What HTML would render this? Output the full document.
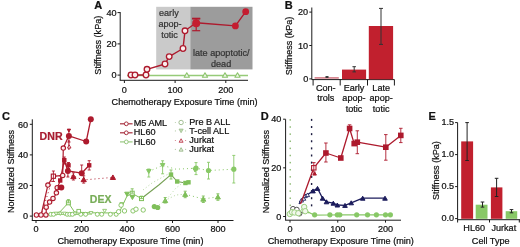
<!DOCTYPE html>
<html><head><meta charset="utf-8"><style>
html,body{margin:0;padding:0;background:#fff;}
svg{display:block;font-family:"Liberation Sans",sans-serif;will-change:transform;}
</style></head><body>
<svg width="520" height="247" viewBox="0 0 520 247">
<rect width="520" height="247" fill="#fff"/>
<text x="94.2" y="8.6" font-size="11" fill="#111" stroke="#111" stroke-width="0.22" text-anchor="start" font-weight="bold" >A</text>
<rect x="156.2" y="6.8" width="34.1" height="62.6" fill="#cacaca"/>
<rect x="190.3" y="6.8" width="62.2" height="62.6" fill="#9c9c9c"/>
<text x="159.0" y="15.8" font-size="9.1" fill="#333" stroke="#333" stroke-width="0.22" text-anchor="start" font-weight="normal" >early</text>
<text x="158.4" y="26.6" font-size="9.1" fill="#333" stroke="#333" stroke-width="0.22" text-anchor="start" font-weight="normal" >apop-</text>
<text x="161.2" y="37.5" font-size="9.1" fill="#333" stroke="#333" stroke-width="0.22" text-anchor="start" font-weight="normal" >totic</text>
<text x="193.0" y="56.1" font-size="9.1" fill="#333" stroke="#333" stroke-width="0.22" text-anchor="start" font-weight="normal" >late apoptotic/</text>
<text x="211.0" y="66.6" font-size="9.1" fill="#333" stroke="#333" stroke-width="0.22" text-anchor="start" font-weight="normal" >dead</text>
<line x1="120.2" y1="12.1" x2="120.2" y2="80.3" stroke="#1a1a1a" stroke-width="1" />
<line x1="119.7" y1="80.3" x2="248" y2="80.3" stroke="#1a1a1a" stroke-width="1" />
<line x1="117.5" y1="12.6" x2="120.2" y2="12.6" stroke="#1a1a1a" stroke-width="1" />
<text x="116.6" y="15.899999999999999" font-size="9.1" fill="#111" stroke="#111" stroke-width="0.22" text-anchor="end" font-weight="normal" >40</text>
<line x1="117.5" y1="43.9" x2="120.2" y2="43.9" stroke="#1a1a1a" stroke-width="1" />
<text x="116.6" y="47.199999999999996" font-size="9.1" fill="#111" stroke="#111" stroke-width="0.22" text-anchor="end" font-weight="normal" >20</text>
<line x1="117.5" y1="75.1" x2="120.2" y2="75.1" stroke="#1a1a1a" stroke-width="1" />
<text x="116.6" y="78.39999999999999" font-size="9.1" fill="#111" stroke="#111" stroke-width="0.22" text-anchor="end" font-weight="normal" >0</text>
<line x1="124.4" y1="80.3" x2="124.4" y2="83" stroke="#1a1a1a" stroke-width="1" />
<text x="124.4" y="93.0" font-size="9.1" fill="#111" stroke="#111" stroke-width="0.22" text-anchor="middle" font-weight="normal" >0</text>
<line x1="175.1" y1="80.3" x2="175.1" y2="83" stroke="#1a1a1a" stroke-width="1" />
<text x="175.1" y="93.0" font-size="9.1" fill="#111" stroke="#111" stroke-width="0.22" text-anchor="middle" font-weight="normal" >100</text>
<line x1="225.8" y1="80.3" x2="225.8" y2="83" stroke="#1a1a1a" stroke-width="1" />
<text x="225.8" y="93.0" font-size="9.1" fill="#111" stroke="#111" stroke-width="0.22" text-anchor="middle" font-weight="normal" >200</text>
<text x="111.6" y="104.8" font-size="9.1" fill="#111" stroke="#111" stroke-width="0.22" text-anchor="start" font-weight="normal" >Chemotherapy Exposure Time (min)</text>
<text x="0" y="0" font-size="9.1" fill="#111" stroke="#111" stroke-width="0.22" text-anchor="middle" transform="translate(101.4,45.2) rotate(-90)">Stiffness (kPa)</text>
<line x1="127" y1="75.5" x2="248" y2="75.5" stroke="#96cb78" stroke-width="1.3" />
<polygon points="184.20000000000002,77.262 189.4,77.262 186.8,72.738" fill="#eef7e8" stroke="#8cc46c" stroke-width="1.1" stroke-linejoin="round"/>
<polygon points="202.4,77.262 207.6,77.262 205,72.738" fill="#eef7e8" stroke="#8cc46c" stroke-width="1.1" stroke-linejoin="round"/>
<polygon points="222.4,77.262 227.6,77.262 225,72.738" fill="#eef7e8" stroke="#8cc46c" stroke-width="1.1" stroke-linejoin="round"/>
<polygon points="234.9,77.262 240.1,77.262 237.5,72.738" fill="#eef7e8" stroke="#8cc46c" stroke-width="1.1" stroke-linejoin="round"/>
<polyline points="131,75 135,75 146,75 147,69.3 165,64 169.2,56.6 183,48.5 185,30.8 196.2,22.7 235.4,25.9 245.7,11.7" fill="none" stroke="#ad1a2d" stroke-width="1.4" stroke-linejoin="round" />
<line x1="196.2" y1="18.6" x2="196.2" y2="30.7" stroke="#ad1a2d" stroke-width="1.2" />
<line x1="192.2" y1="18.6" x2="200.2" y2="18.6" stroke="#ad1a2d" stroke-width="1.2" />
<line x1="192.2" y1="30.7" x2="200.2" y2="30.7" stroke="#ad1a2d" stroke-width="1.2" />
<line x1="192.2" y1="18.6" x2="200.2" y2="18.6" stroke="#ad1a2d" stroke-width="1.8" />
<circle cx="131" cy="75" r="2.8" fill="#fbeeee" stroke="#ad1a2d" stroke-width="1.3"/>
<circle cx="135" cy="75" r="2.8" fill="#fbeeee" stroke="#ad1a2d" stroke-width="1.3"/>
<circle cx="146" cy="75" r="2.8" fill="#fbeeee" stroke="#ad1a2d" stroke-width="1.3"/>
<circle cx="147" cy="69.3" r="2.8" fill="#fbeeee" stroke="#ad1a2d" stroke-width="1.3"/>
<circle cx="165" cy="64" r="2.8" fill="#fbeeee" stroke="#ad1a2d" stroke-width="1.3"/>
<circle cx="169.2" cy="56.6" r="2.8" fill="#fbeeee" stroke="#ad1a2d" stroke-width="1.3"/>
<circle cx="183" cy="48.5" r="2.8" fill="#fbeeee" stroke="#ad1a2d" stroke-width="1.3"/>
<circle cx="185" cy="30.8" r="2.8" fill="#fbeeee" stroke="#ad1a2d" stroke-width="1.3"/>
<circle cx="196.2" cy="23.2" r="4.0" fill="#c41d30"/>
<circle cx="235.4" cy="25.9" r="3.4" fill="#c41d30"/>
<circle cx="245.7" cy="11.7" r="3.4" fill="#c41d30"/>
<text x="284.7" y="8.8" font-size="11" fill="#111" stroke="#111" stroke-width="0.22" text-anchor="start" font-weight="bold" >B</text>
<text x="0" y="0" font-size="9.0" fill="#111" stroke="#111" stroke-width="0.22" text-anchor="middle" transform="translate(291.9,46.0) rotate(-90)">Stiffness (kPa)</text>
<line x1="311.8" y1="7.5" x2="311.8" y2="79.6" stroke="#1a1a1a" stroke-width="1" />
<line x1="309.3" y1="12.1" x2="311.8" y2="12.1" stroke="#1a1a1a" stroke-width="1" />
<text x="308.2" y="15.399999999999999" font-size="9.1" fill="#111" stroke="#111" stroke-width="0.22" text-anchor="end" font-weight="normal" >20</text>
<line x1="309.3" y1="45.5" x2="311.8" y2="45.5" stroke="#1a1a1a" stroke-width="1" />
<text x="308.2" y="48.8" font-size="9.1" fill="#111" stroke="#111" stroke-width="0.22" text-anchor="end" font-weight="normal" >10</text>
<line x1="309.3" y1="78.9" x2="311.8" y2="78.9" stroke="#1a1a1a" stroke-width="1" />
<text x="308.2" y="82.2" font-size="9.1" fill="#111" stroke="#111" stroke-width="0.22" text-anchor="end" font-weight="normal" >0</text>
<line x1="311.8" y1="79.6" x2="394.4" y2="79.6" stroke="#1a1a1a" stroke-width="1" />
<line x1="313.1" y1="79.6" x2="313.1" y2="85.5" stroke="#1a1a1a" stroke-width="1" />
<line x1="340.2" y1="79.6" x2="340.2" y2="85.5" stroke="#1a1a1a" stroke-width="1" />
<line x1="367.5" y1="79.6" x2="367.5" y2="85.5" stroke="#1a1a1a" stroke-width="1" />
<line x1="394.4" y1="79.6" x2="394.4" y2="85.5" stroke="#1a1a1a" stroke-width="1" />
<rect x="314.6" y="77.0" width="24.2" height="1.8" fill="#d98a94"/>
<rect x="342.0" y="69.6" width="24.1" height="9.6" fill="#c1202e"/>
<rect x="368.8" y="26" width="24.3" height="53.3" fill="#c1202e"/>
<line x1="327" y1="76.6" x2="327" y2="77.4" stroke="#333" stroke-width="1.0" />
<line x1="325.5" y1="76.6" x2="328.5" y2="76.6" stroke="#333" stroke-width="1.0" />
<line x1="325.5" y1="77.4" x2="328.5" y2="77.4" stroke="#333" stroke-width="1.0" />
<line x1="354.2" y1="66.7" x2="354.2" y2="71.9" stroke="#333" stroke-width="1.0" />
<line x1="352.45" y1="66.7" x2="355.95" y2="66.7" stroke="#333" stroke-width="1.0" />
<line x1="352.45" y1="71.9" x2="355.95" y2="71.9" stroke="#333" stroke-width="1.0" />
<line x1="381" y1="8.4" x2="381" y2="44.4" stroke="#333" stroke-width="1.0" />
<line x1="379.0" y1="8.4" x2="383.0" y2="8.4" stroke="#333" stroke-width="1.0" />
<line x1="379.0" y1="44.4" x2="383.0" y2="44.4" stroke="#333" stroke-width="1.0" />
<text x="325.8" y="90.6" font-size="9.1" fill="#111" stroke="#111" stroke-width="0.22" text-anchor="middle" font-weight="normal" >Con-</text>
<text x="325.8" y="101.1" font-size="9.1" fill="#111" stroke="#111" stroke-width="0.22" text-anchor="middle" font-weight="normal" >trols</text>
<text x="354" y="90.6" font-size="9.1" fill="#111" stroke="#111" stroke-width="0.22" text-anchor="middle" font-weight="normal" >Early</text>
<text x="354" y="101.1" font-size="9.1" fill="#111" stroke="#111" stroke-width="0.22" text-anchor="middle" font-weight="normal" >apop-</text>
<text x="354" y="111.6" font-size="9.1" fill="#111" stroke="#111" stroke-width="0.22" text-anchor="middle" font-weight="normal" >totic</text>
<text x="381.2" y="90.6" font-size="9.1" fill="#111" stroke="#111" stroke-width="0.22" text-anchor="middle" font-weight="normal" >Late</text>
<text x="381.2" y="101.1" font-size="9.1" fill="#111" stroke="#111" stroke-width="0.22" text-anchor="middle" font-weight="normal" >apop-</text>
<text x="381.2" y="111.6" font-size="9.1" fill="#111" stroke="#111" stroke-width="0.22" text-anchor="middle" font-weight="normal" >totic</text>
<text x="1.9" y="119.7" font-size="11" fill="#111" stroke="#111" stroke-width="0.22" text-anchor="start" font-weight="bold" >C</text>
<text x="0" y="0" font-size="9.1" fill="#111" stroke="#111" stroke-width="0.22" text-anchor="middle" transform="translate(13.8,171.5) rotate(-90)">Normalized Stiffness</text>
<line x1="32.3" y1="119.3" x2="32.3" y2="220.5" stroke="#1a1a1a" stroke-width="1" />
<line x1="29.8" y1="124.3" x2="32.3" y2="124.3" stroke="#1a1a1a" stroke-width="1" />
<text x="28.0" y="127.5" font-size="9.1" fill="#111" stroke="#111" stroke-width="0.22" text-anchor="end" font-weight="normal" >60</text>
<line x1="29.8" y1="154.89999999999998" x2="32.3" y2="154.89999999999998" stroke="#1a1a1a" stroke-width="1" />
<text x="28.0" y="158.09999999999997" font-size="9.1" fill="#111" stroke="#111" stroke-width="0.22" text-anchor="end" font-weight="normal" >40</text>
<line x1="29.8" y1="185.5" x2="32.3" y2="185.5" stroke="#1a1a1a" stroke-width="1" />
<text x="28.0" y="188.7" font-size="9.1" fill="#111" stroke="#111" stroke-width="0.22" text-anchor="end" font-weight="normal" >20</text>
<line x1="29.8" y1="216.1" x2="32.3" y2="216.1" stroke="#1a1a1a" stroke-width="1" />
<text x="28.0" y="219.29999999999998" font-size="9.1" fill="#111" stroke="#111" stroke-width="0.22" text-anchor="end" font-weight="normal" >0</text>
<line x1="31.8" y1="220.5" x2="233.5" y2="220.5" stroke="#1a1a1a" stroke-width="1" />
<line x1="36.0" y1="220.5" x2="36.0" y2="223.0" stroke="#1a1a1a" stroke-width="1" />
<text x="36.0" y="232.4" font-size="9.1" fill="#111" stroke="#111" stroke-width="0.22" text-anchor="middle" font-weight="normal" >0</text>
<line x1="81.5" y1="220.5" x2="81.5" y2="223.0" stroke="#1a1a1a" stroke-width="1" />
<text x="81.5" y="232.4" font-size="9.1" fill="#111" stroke="#111" stroke-width="0.22" text-anchor="middle" font-weight="normal" >200</text>
<line x1="127.0" y1="220.5" x2="127.0" y2="223.0" stroke="#1a1a1a" stroke-width="1" />
<text x="127.0" y="232.4" font-size="9.1" fill="#111" stroke="#111" stroke-width="0.22" text-anchor="middle" font-weight="normal" >400</text>
<line x1="172.5" y1="220.5" x2="172.5" y2="223.0" stroke="#1a1a1a" stroke-width="1" />
<text x="172.5" y="232.4" font-size="9.1" fill="#111" stroke="#111" stroke-width="0.22" text-anchor="middle" font-weight="normal" >600</text>
<line x1="218.0" y1="220.5" x2="218.0" y2="223.0" stroke="#1a1a1a" stroke-width="1" />
<text x="218.0" y="232.4" font-size="9.1" fill="#111" stroke="#111" stroke-width="0.22" text-anchor="middle" font-weight="normal" >800</text>
<text x="57.4" y="244.3" font-size="9.1" fill="#111" stroke="#111" stroke-width="0.22" text-anchor="start" font-weight="normal" >Chemotherapy Exposure Time (min)</text>
<text x="39.6" y="139.9" font-size="10.6" fill="#a81c30" stroke="#a81c30" stroke-width="0.22" text-anchor="start" font-weight="bold" >DNR</text>
<text x="89.8" y="202.9" font-size="10.5" fill="#78ad58" stroke="#78ad58" stroke-width="0.22" text-anchor="start" font-weight="bold" >DEX</text>
<line x1="120" y1="123.8" x2="132.6" y2="123.8" stroke="#a8303f" stroke-width="1.2" />
<circle cx="126.3" cy="123.8" r="1.9" fill="#fff" stroke="#a8303f" stroke-width="1.0"/>
<text x="133.8" y="126.3" font-size="9.1" fill="#111" stroke="#111" stroke-width="0.22" text-anchor="start" font-weight="normal" >M5 AML</text>
<line x1="120" y1="132.8" x2="132.6" y2="132.8" stroke="#a8303f" stroke-width="1.2" />
<circle cx="126.3" cy="132.8" r="1.9" fill="#fff" stroke="#a8303f" stroke-width="1.0"/>
<text x="133.8" y="135.4" font-size="9.1" fill="#111" stroke="#111" stroke-width="0.22" text-anchor="start" font-weight="normal" >HL60</text>
<line x1="120" y1="141.9" x2="132.6" y2="141.9" stroke="#98c880" stroke-width="1.2" />
<circle cx="126.3" cy="141.9" r="1.9" fill="#fff" stroke="#98c880" stroke-width="1.0"/>
<text x="133.8" y="144.5" font-size="9.1" fill="#111" stroke="#111" stroke-width="0.22" text-anchor="start" font-weight="normal" >HL60</text>
<circle cx="175.4" cy="122.5" r="0.6" fill="#98b888" opacity="0.7"/>
<circle cx="185.6" cy="122.5" r="0.6" fill="#98b888" opacity="0.7"/>
<circle cx="181.1" cy="122.5" r="2.2" fill="#fff" stroke="#98b888" stroke-width="0.9"/>
<text x="189.3" y="124.8" font-size="9.1" fill="#111" stroke="#111" stroke-width="0.22" text-anchor="start" font-weight="normal" >Pre B ALL</text>
<circle cx="175.4" cy="130.9" r="0.6" fill="#98b888" opacity="0.7"/>
<circle cx="185.6" cy="130.9" r="0.6" fill="#98b888" opacity="0.7"/>
<polygon points="179.0,129.073 183.2,129.073 181.1,132.727" fill="#c0dcb0" stroke="#98b888" stroke-width="0.7" stroke-linejoin="round"/>
<text x="189.3" y="133.5" font-size="9.1" fill="#111" stroke="#111" stroke-width="0.22" text-anchor="start" font-weight="normal" >T-cell ALL</text>
<circle cx="175.4" cy="140.5" r="0.6" fill="#c04050" opacity="0.7"/>
<circle cx="185.6" cy="140.5" r="0.6" fill="#c04050" opacity="0.7"/>
<polygon points="179.1,142.24 183.1,142.24 181.1,138.76" fill="#f0e0e0" stroke="#c04050" stroke-width="0.9" stroke-linejoin="round"/>
<text x="189.3" y="143.0" font-size="9.1" fill="#111" stroke="#111" stroke-width="0.22" text-anchor="start" font-weight="normal" >Jurkat</text>
<circle cx="175.4" cy="149.4" r="0.6" fill="#98b888" opacity="0.7"/>
<circle cx="185.6" cy="149.4" r="0.6" fill="#98b888" opacity="0.7"/>
<polygon points="179.1,151.14000000000001 183.1,151.14000000000001 181.1,147.66" fill="#e6efe0" stroke="#98b888" stroke-width="0.9" stroke-linejoin="round"/>
<text x="189.3" y="151.8" font-size="9.1" fill="#111" stroke="#111" stroke-width="0.22" text-anchor="start" font-weight="normal" >Jurkat</text>
<polyline points="46,215 59.8,212 68.4,202.8 74.5,212 90,212.8 119,213 127,196 132.2,193.5 141.5,198.5" fill="none" stroke="#7fbf5a" stroke-width="1.0" stroke-linejoin="round" />
<polyline points="141.5,198.5 158.8,185 171,174.6 177.2,181.5 185.4,183 188.5,182.3" fill="none" stroke="#76a055" stroke-width="1.1" stroke-linejoin="round" />
<polyline points="46,215 50.8,214.4 56.1,214.4 64.5,214.4 72.4,214.4 80.8,214.4 85.6,214.4 90,214" fill="none" stroke="#7fbf5a" stroke-width="0.9" stroke-linejoin="round" />
<circle cx="50.8" cy="214.3" r="2.0" fill="#fff" stroke="#7fbf5a" stroke-width="0.9"/>
<circle cx="53.5" cy="214.3" r="2.0" fill="#fff" stroke="#7fbf5a" stroke-width="0.9"/>
<circle cx="67.2" cy="214.3" r="2.0" fill="#fff" stroke="#7fbf5a" stroke-width="0.9"/>
<circle cx="69.8" cy="214.3" r="2.0" fill="#fff" stroke="#7fbf5a" stroke-width="0.9"/>
<circle cx="72.4" cy="214.3" r="2.0" fill="#fff" stroke="#7fbf5a" stroke-width="0.9"/>
<circle cx="80.8" cy="214.3" r="2.0" fill="#fff" stroke="#7fbf5a" stroke-width="0.9"/>
<circle cx="85.6" cy="214.3" r="2.0" fill="#fff" stroke="#7fbf5a" stroke-width="0.9"/>
<circle cx="97.3" cy="214.3" r="2.0" fill="#fff" stroke="#7fbf5a" stroke-width="0.9"/>
<circle cx="101.7" cy="214.3" r="2.0" fill="#fff" stroke="#7fbf5a" stroke-width="0.9"/>
<circle cx="110.4" cy="214.3" r="2.0" fill="#fff" stroke="#7fbf5a" stroke-width="0.9"/>
<circle cx="116.2" cy="214.3" r="2.0" fill="#fff" stroke="#7fbf5a" stroke-width="0.9"/>
<polygon points="54.2,212.14700000000002 58.0,212.14700000000002 56.1,215.453" fill="#fff" stroke="#7fbf5a" stroke-width="0.8" stroke-linejoin="round"/>
<polygon points="58.4,212.14700000000002 62.199999999999996,212.14700000000002 60.3,215.453" fill="#fff" stroke="#7fbf5a" stroke-width="0.8" stroke-linejoin="round"/>
<polygon points="62.6,212.14700000000002 66.4,212.14700000000002 64.5,215.453" fill="#fff" stroke="#7fbf5a" stroke-width="0.8" stroke-linejoin="round"/>
<polygon points="73.1,212.14700000000002 76.9,212.14700000000002 75,215.453" fill="#fff" stroke="#7fbf5a" stroke-width="0.8" stroke-linejoin="round"/>
<polygon points="102.69999999999999,209.347 106.5,209.347 104.6,212.653" fill="#fff" stroke="#7fbf5a" stroke-width="0.8" stroke-linejoin="round"/>
<polygon points="119.89999999999999,202.547 123.7,202.547 121.8,205.85299999999998" fill="#fff" stroke="#7fbf5a" stroke-width="0.8" stroke-linejoin="round"/>
<polygon points="89.1,211.547 92.9,211.547 91,214.85299999999998" fill="#fff" stroke="#7fbf5a" stroke-width="0.8" stroke-linejoin="round"/>
<rect x="76.9" y="209.39999999999998" width="3.6" height="3.6" fill="#fff" stroke="#7fbf5a" stroke-width="0.9"/>
<rect x="66.4" y="200.8" width="4.0" height="4.0" fill="#fff" stroke="#7fbf5a" stroke-width="1.0"/>
<line x1="68.4" y1="199.6" x2="68.4" y2="202.8" stroke="#7fbf5a" stroke-width="0.9" />
<line x1="66.9" y1="199.6" x2="69.9" y2="199.6" stroke="#7fbf5a" stroke-width="0.9" />
<line x1="66.9" y1="202.8" x2="69.9" y2="202.8" stroke="#7fbf5a" stroke-width="0.9" />
<rect x="130.2" y="191.2" width="4.0" height="4.0" fill="#fff" stroke="#7fbf5a" stroke-width="1.0"/>
<line x1="132.2" y1="188.8" x2="132.2" y2="193.2" stroke="#7fbf5a" stroke-width="0.9" />
<line x1="130.7" y1="188.8" x2="133.7" y2="188.8" stroke="#7fbf5a" stroke-width="0.9" />
<line x1="130.7" y1="193.2" x2="133.7" y2="193.2" stroke="#7fbf5a" stroke-width="0.9" />
<rect x="139.5" y="196.6" width="4.0" height="4.0" fill="#fff" stroke="#7fbf5a" stroke-width="1.0"/>
<line x1="141.5" y1="196.2" x2="141.5" y2="198.6" stroke="#7fbf5a" stroke-width="0.9" />
<line x1="140.0" y1="196.2" x2="143.0" y2="196.2" stroke="#7fbf5a" stroke-width="0.9" />
<line x1="140.0" y1="198.6" x2="143.0" y2="198.6" stroke="#7fbf5a" stroke-width="0.9" />
<circle cx="121.1" cy="205.2" r="2.2" fill="#fff" stroke="#7fbf5a" stroke-width="0.9"/>
<circle cx="133" cy="210.9" r="2.2" fill="#fff" stroke="#7fbf5a" stroke-width="0.9"/>
<circle cx="136" cy="209.2" r="2.2" fill="#fff" stroke="#7fbf5a" stroke-width="0.9"/>
<circle cx="143.2" cy="210" r="2.2" fill="#fff" stroke="#7fbf5a" stroke-width="0.9"/>
<circle cx="124.5" cy="210.9" r="2.2" fill="#fff" stroke="#7fbf5a" stroke-width="0.9"/>
<circle cx="118.6" cy="211.7" r="2.2" fill="#fff" stroke="#7fbf5a" stroke-width="0.9"/>
<polygon points="124.7,192.19899999999998 129.3,192.19899999999998 127,196.201" fill="#7fbf5a" stroke="#7fbf5a" stroke-width="1.0" stroke-linejoin="round"/>
<polygon points="130.1,195.599 134.70000000000002,195.599 132.4,199.601" fill="#7fbf5a" stroke="#7fbf5a" stroke-width="1.0" stroke-linejoin="round"/>
<circle cx="154.3" cy="206.6" r="2.6" fill="#7fbf5a"/>
<circle cx="157.7" cy="207.5" r="2.6" fill="#7fbf5a"/>
<polygon points="162.7,202.57500000000002 167.7,202.57500000000002 165.2,198.225" fill="#7fbf5a" stroke="#7fbf5a" stroke-width="1.0" stroke-linejoin="round"/>
<line x1="165.2" y1="197.5" x2="165.2" y2="203" stroke="#7fbf5a" stroke-width="0.9" />
<line x1="163.7" y1="197.5" x2="166.7" y2="197.5" stroke="#7fbf5a" stroke-width="0.9" />
<line x1="163.7" y1="203" x2="166.7" y2="203" stroke="#7fbf5a" stroke-width="0.9" />
<rect x="168.8" y="172.4" width="4.4" height="4.4" fill="#7fbf5a"/>
<rect x="175.0" y="179.3" width="4.4" height="4.4" fill="#7fbf5a"/>
<rect x="183.20000000000002" y="180.8" width="4.4" height="4.4" fill="#7fbf5a"/>
<rect x="186.3" y="180.10000000000002" width="4.4" height="4.4" fill="#7fbf5a"/>
<line x1="171" y1="170" x2="171" y2="179" stroke="#7fbf5a" stroke-width="0.9" />
<line x1="169.5" y1="170" x2="172.5" y2="170" stroke="#7fbf5a" stroke-width="0.9" />
<line x1="169.5" y1="179" x2="172.5" y2="179" stroke="#7fbf5a" stroke-width="0.9" />
<polyline points="143,190 152,183 161,178 170,173" fill="none" stroke="#a8d090" stroke-width="0.9" stroke-linejoin="round" stroke-dasharray="1,2.5"/>
<polyline points="159,205 165.2,200.4 176,195 185.2,194.2" fill="none" stroke="#a8d090" stroke-width="0.9" stroke-linejoin="round" stroke-dasharray="1,2.5"/>
<polyline points="166,200 176,188 184,182" fill="none" stroke="#b0d8a0" stroke-width="0.9" stroke-linejoin="round" stroke-dasharray="1,2.5"/>
<polyline points="148.8,171.5 162.6,165.4 176,169.2 196,168.2 208.5,170.5 233.8,169.2" fill="none" stroke="#88c866" stroke-width="1.0" stroke-linejoin="round" stroke-dasharray="1,3"/>
<polygon points="146.55,169.5425 151.05,169.5425 148.8,173.4575" fill="#88c866" stroke="#88c866" stroke-width="1.0" stroke-linejoin="round"/>
<line x1="148.8" y1="169" x2="148.8" y2="177" stroke="#88c866" stroke-width="0.9" />
<line x1="147.3" y1="169" x2="150.3" y2="169" stroke="#88c866" stroke-width="0.9" />
<line x1="147.3" y1="177" x2="150.3" y2="177" stroke="#88c866" stroke-width="0.9" />
<polygon points="160.35,163.4425 164.85,163.4425 162.6,167.35750000000002" fill="#88c866" stroke="#88c866" stroke-width="1.0" stroke-linejoin="round"/>
<line x1="162.6" y1="160.8" x2="162.6" y2="173.8" stroke="#88c866" stroke-width="0.9" />
<line x1="161.1" y1="160.8" x2="164.1" y2="160.8" stroke="#88c866" stroke-width="0.9" />
<line x1="161.1" y1="173.8" x2="164.1" y2="173.8" stroke="#88c866" stroke-width="0.9" />
<circle cx="196" cy="168.2" r="2.6" fill="#88c866"/>
<polygon points="192.75,168.0425 197.25,168.0425 195,171.9575" fill="#88c866" stroke="#88c866" stroke-width="1.0" stroke-linejoin="round"/>
<line x1="196" y1="162.6" x2="196" y2="174.6" stroke="#88c866" stroke-width="0.9" />
<line x1="194.5" y1="162.6" x2="197.5" y2="162.6" stroke="#88c866" stroke-width="0.9" />
<line x1="194.5" y1="174.6" x2="197.5" y2="174.6" stroke="#88c866" stroke-width="0.9" />
<circle cx="208.5" cy="170.5" r="2.6" fill="#88c866"/>
<line x1="208.5" y1="162.3" x2="208.5" y2="179" stroke="#88c866" stroke-width="0.9" />
<line x1="207.0" y1="162.3" x2="210.0" y2="162.3" stroke="#88c866" stroke-width="0.9" />
<line x1="207.0" y1="179" x2="210.0" y2="179" stroke="#88c866" stroke-width="0.9" />
<circle cx="233.8" cy="169.2" r="2.6" fill="#88c866"/>
<line x1="233.8" y1="155.4" x2="233.8" y2="183" stroke="#88c866" stroke-width="0.9" />
<line x1="232.3" y1="155.4" x2="235.3" y2="155.4" stroke="#88c866" stroke-width="0.9" />
<line x1="232.3" y1="183" x2="235.3" y2="183" stroke="#88c866" stroke-width="0.9" />
<polyline points="185.2,194.2 203.3,199 217.9,196.8" fill="none" stroke="#88c866" stroke-width="1.0" stroke-linejoin="round" stroke-dasharray="1,3"/>
<polygon points="182.7,196.375 187.7,196.375 185.2,192.02499999999998" fill="#7fbf5a" stroke="#7fbf5a" stroke-width="1.0" stroke-linejoin="round"/>
<line x1="185.2" y1="191.2" x2="185.2" y2="197.7" stroke="#7fbf5a" stroke-width="0.9" />
<line x1="183.7" y1="191.2" x2="186.7" y2="191.2" stroke="#7fbf5a" stroke-width="0.9" />
<line x1="183.7" y1="197.7" x2="186.7" y2="197.7" stroke="#7fbf5a" stroke-width="0.9" />
<polygon points="200.8,201.175 205.8,201.175 203.3,196.825" fill="#7fbf5a" stroke="#7fbf5a" stroke-width="1.0" stroke-linejoin="round"/>
<line x1="203.3" y1="196" x2="203.3" y2="202.5" stroke="#7fbf5a" stroke-width="0.9" />
<line x1="201.8" y1="196" x2="204.8" y2="196" stroke="#7fbf5a" stroke-width="0.9" />
<line x1="201.8" y1="202.5" x2="204.8" y2="202.5" stroke="#7fbf5a" stroke-width="0.9" />
<polygon points="215.4,198.97500000000002 220.4,198.97500000000002 217.9,194.625" fill="#7fbf5a" stroke="#7fbf5a" stroke-width="1.0" stroke-linejoin="round"/>
<line x1="217.9" y1="193.8" x2="217.9" y2="200.3" stroke="#7fbf5a" stroke-width="0.9" />
<line x1="216.4" y1="193.8" x2="219.4" y2="193.8" stroke="#7fbf5a" stroke-width="0.9" />
<line x1="216.4" y1="200.3" x2="219.4" y2="200.3" stroke="#7fbf5a" stroke-width="0.9" />
<polyline points="36.8,215 41.1,215 47.9,185.1 53.2,176.4 62.7,175.4 63.3,148.1" fill="none" stroke="#ad1a2d" stroke-width="1.2" stroke-linejoin="round" />
<polyline points="46.2,214.9 46.2,207.2 49.6,202.1 53,198.4 54.7,196.2 56.4,192.8 57.2,187.7 62.7,175.4" fill="none" stroke="#ad1a2d" stroke-width="1.2" stroke-linejoin="round" />
<polyline points="63.3,148.1 68.9,135.8 86.2,141.5 90.8,119.3" fill="none" stroke="#ad1a2d" stroke-width="1.3" stroke-linejoin="round" />
<polyline points="60.2,180.5 64.3,160.2 66.3,166.3 67.9,170.9 81.7,173.2 89.2,165.3" fill="none" stroke="#ad1a2d" stroke-width="1.3" stroke-linejoin="round" />
<polyline points="42,212.3 53.4,176 73.8,176 83,180 112.9,177.4" fill="none" stroke="#ad1a2d" stroke-width="1.0" stroke-linejoin="round" stroke-dasharray="1,3"/>
<circle cx="36.4" cy="215" r="2.2" fill="#fbeeee" stroke="#ad1a2d" stroke-width="1.1"/>
<circle cx="41" cy="215" r="2.2" fill="#fbeeee" stroke="#ad1a2d" stroke-width="1.1"/>
<circle cx="45.9" cy="214.9" r="2.2" fill="#fbeeee" stroke="#ad1a2d" stroke-width="1.1"/>
<circle cx="46.2" cy="207.2" r="2.2" fill="#fbeeee" stroke="#ad1a2d" stroke-width="1.1"/>
<circle cx="49.6" cy="202.1" r="2.2" fill="#fbeeee" stroke="#ad1a2d" stroke-width="1.1"/>
<circle cx="53" cy="198.4" r="2.2" fill="#fbeeee" stroke="#ad1a2d" stroke-width="1.1"/>
<circle cx="56.4" cy="192.8" r="2.2" fill="#fbeeee" stroke="#ad1a2d" stroke-width="1.1"/>
<circle cx="47.9" cy="185.1" r="2.2" fill="#fbeeee" stroke="#ad1a2d" stroke-width="1.1"/>
<circle cx="57.2" cy="187.7" r="2.2" fill="#fbeeee" stroke="#ad1a2d" stroke-width="1.1"/>
<circle cx="62.7" cy="175.4" r="2.2" fill="#fbeeee" stroke="#ad1a2d" stroke-width="1.1"/>
<circle cx="63.3" cy="148.1" r="2.2" fill="#fbeeee" stroke="#ad1a2d" stroke-width="1.1"/>
<rect x="51.3" y="174.1" width="4.2" height="4.2" fill="#fff" stroke="#ad1a2d" stroke-width="1.1"/>
<line x1="53.4" y1="171" x2="53.4" y2="181.5" stroke="#ad1a2d" stroke-width="0.9" />
<line x1="51.9" y1="171" x2="54.9" y2="171" stroke="#ad1a2d" stroke-width="0.9" />
<line x1="51.9" y1="181.5" x2="54.9" y2="181.5" stroke="#ad1a2d" stroke-width="0.9" />
<rect x="62.099999999999994" y="158.0" width="4.4" height="4.4" fill="#ad1a2d"/>
<rect x="66.3" y="163.10000000000002" width="4.4" height="4.4" fill="#ad1a2d"/>
<rect x="87.0" y="163.10000000000002" width="4.4" height="4.4" fill="#ad1a2d"/>
<rect x="58.0" y="178.3" width="4.4" height="4.4" fill="#ad1a2d"/>
<rect x="57.599999999999994" y="185.5" width="4.4" height="4.4" fill="#ad1a2d"/>
<line x1="64.3" y1="157" x2="64.3" y2="164" stroke="#ad1a2d" stroke-width="0.9" />
<line x1="62.8" y1="157" x2="65.8" y2="157" stroke="#ad1a2d" stroke-width="0.9" />
<line x1="62.8" y1="164" x2="65.8" y2="164" stroke="#ad1a2d" stroke-width="0.9" />
<line x1="68.5" y1="162.5" x2="68.5" y2="168.5" stroke="#ad1a2d" stroke-width="0.9" />
<line x1="67.0" y1="162.5" x2="70.0" y2="162.5" stroke="#ad1a2d" stroke-width="0.9" />
<line x1="67.0" y1="168.5" x2="70.0" y2="168.5" stroke="#ad1a2d" stroke-width="0.9" />
<line x1="89.2" y1="160.7" x2="89.2" y2="170" stroke="#ad1a2d" stroke-width="0.9" />
<line x1="87.7" y1="160.7" x2="90.7" y2="160.7" stroke="#ad1a2d" stroke-width="0.9" />
<line x1="87.7" y1="170" x2="90.7" y2="170" stroke="#ad1a2d" stroke-width="0.9" />
<circle cx="67.9" cy="170.9" r="3.0" fill="#ad1a2d"/>
<circle cx="81.7" cy="173.2" r="3.0" fill="#ad1a2d"/>
<circle cx="86.2" cy="141.5" r="3.0" fill="#ad1a2d"/>
<circle cx="90.8" cy="119.3" r="3.0" fill="#ad1a2d"/>
<circle cx="61.3" cy="187.6" r="3.0" fill="#ad1a2d"/>
<line x1="81.7" y1="165" x2="81.7" y2="173" stroke="#ad1a2d" stroke-width="0.9" />
<line x1="80.2" y1="165" x2="83.2" y2="165" stroke="#ad1a2d" stroke-width="0.9" />
<line x1="80.2" y1="173" x2="83.2" y2="173" stroke="#ad1a2d" stroke-width="0.9" />
<line x1="67.9" y1="165.5" x2="67.9" y2="177" stroke="#ad1a2d" stroke-width="0.9" />
<line x1="66.4" y1="165.5" x2="69.4" y2="165.5" stroke="#ad1a2d" stroke-width="0.9" />
<line x1="66.4" y1="177" x2="69.4" y2="177" stroke="#ad1a2d" stroke-width="0.9" />
<circle cx="68.9" cy="136.0" r="3.0" fill="#ad1a2d"/>
<line x1="68.9" y1="129.4" x2="68.9" y2="142" stroke="#ad1a2d" stroke-width="1.0" />
<line x1="67.30000000000001" y1="129.4" x2="70.5" y2="129.4" stroke="#ad1a2d" stroke-width="1.0" />
<line x1="67.30000000000001" y1="142" x2="70.5" y2="142" stroke="#ad1a2d" stroke-width="1.0" />
<polygon points="67.30000000000001,129.208 70.5,129.208 68.9,131.992" fill="#ad1a2d" stroke="#ad1a2d" stroke-width="1.0" stroke-linejoin="round"/>
<line x1="68.9" y1="140" x2="68.9" y2="150" stroke="#ad1a2d" stroke-width="1.1" />
<polygon points="67.4,148.066 71.0,148.066 69.2,144.934" fill="#fff" stroke="#ad1a2d" stroke-width="0.9" stroke-linejoin="round"/>
<polygon points="70.80000000000001,178.662 76.0,178.662 73.4,174.138" fill="#ad1a2d" stroke="#ad1a2d" stroke-width="1.0" stroke-linejoin="round"/>
<polygon points="81.10000000000001,181.662 86.3,181.662 83.7,177.138" fill="#ad1a2d" stroke="#ad1a2d" stroke-width="1.0" stroke-linejoin="round"/>
<polygon points="110.30000000000001,179.462 115.5,179.462 112.9,174.938" fill="#ad1a2d" stroke="#ad1a2d" stroke-width="1.0" stroke-linejoin="round"/>
<line x1="73.4" y1="172.8" x2="73.4" y2="180" stroke="#ad1a2d" stroke-width="0.9" />
<line x1="71.9" y1="172.8" x2="74.9" y2="172.8" stroke="#ad1a2d" stroke-width="0.9" />
<line x1="71.9" y1="180" x2="74.9" y2="180" stroke="#ad1a2d" stroke-width="0.9" />
<line x1="83.7" y1="175.8" x2="83.7" y2="183.1" stroke="#ad1a2d" stroke-width="0.9" />
<line x1="82.2" y1="175.8" x2="85.2" y2="175.8" stroke="#ad1a2d" stroke-width="0.9" />
<line x1="82.2" y1="183.1" x2="85.2" y2="183.1" stroke="#ad1a2d" stroke-width="0.9" />
<text x="260.8" y="120" font-size="11" fill="#111" stroke="#111" stroke-width="0.22" text-anchor="start" font-weight="bold" >D</text>
<text x="0" y="0" font-size="9.1" fill="#111" stroke="#111" stroke-width="0.22" text-anchor="middle" transform="translate(268.6,171.6) rotate(-90)">Normalized Stiffness</text>
<line x1="285.6" y1="119.3" x2="285.6" y2="220.2" stroke="#1a1a1a" stroke-width="1" />
<line x1="283.1" y1="119.19999999999999" x2="285.6" y2="119.19999999999999" stroke="#1a1a1a" stroke-width="1" />
<text x="281.3" y="122.39999999999999" font-size="9.1" fill="#111" stroke="#111" stroke-width="0.22" text-anchor="end" font-weight="normal" >40</text>
<line x1="283.1" y1="167.85" x2="285.6" y2="167.85" stroke="#1a1a1a" stroke-width="1" />
<text x="281.3" y="171.04999999999998" font-size="9.1" fill="#111" stroke="#111" stroke-width="0.22" text-anchor="end" font-weight="normal" >20</text>
<line x1="283.1" y1="216.5" x2="285.6" y2="216.5" stroke="#1a1a1a" stroke-width="1" />
<text x="281.3" y="219.7" font-size="9.1" fill="#111" stroke="#111" stroke-width="0.22" text-anchor="end" font-weight="normal" >0</text>
<line x1="285.1" y1="220.2" x2="401" y2="220.2" stroke="#1a1a1a" stroke-width="1" />
<line x1="290.0" y1="220.2" x2="290.0" y2="222.6" stroke="#1a1a1a" stroke-width="1" />
<text x="290.0" y="231.8" font-size="9.1" fill="#111" stroke="#111" stroke-width="0.22" text-anchor="middle" font-weight="normal" >0</text>
<line x1="337.75" y1="220.2" x2="337.75" y2="222.6" stroke="#1a1a1a" stroke-width="1" />
<text x="337.75" y="231.8" font-size="9.1" fill="#111" stroke="#111" stroke-width="0.22" text-anchor="middle" font-weight="normal" >100</text>
<line x1="385.5" y1="220.2" x2="385.5" y2="222.6" stroke="#1a1a1a" stroke-width="1" />
<text x="385.5" y="231.8" font-size="9.1" fill="#111" stroke="#111" stroke-width="0.22" text-anchor="middle" font-weight="normal" >200</text>
<text x="267.8" y="244.3" font-size="9.1" fill="#111" stroke="#111" stroke-width="0.22" text-anchor="start" font-weight="normal" >Chemotherapy Exposure Time (min)</text>
<rect x="289.5" y="119.15" width="1.5" height="1.5" fill="#94bd7c"/>
<rect x="289.5" y="126.27000000000001" width="1.5" height="1.5" fill="#94bd7c"/>
<rect x="289.5" y="133.39000000000001" width="1.5" height="1.5" fill="#94bd7c"/>
<rect x="289.5" y="140.51" width="1.5" height="1.5" fill="#94bd7c"/>
<rect x="289.5" y="147.63" width="1.5" height="1.5" fill="#94bd7c"/>
<rect x="289.5" y="154.75" width="1.5" height="1.5" fill="#94bd7c"/>
<rect x="289.5" y="161.87" width="1.5" height="1.5" fill="#94bd7c"/>
<rect x="289.5" y="168.99" width="1.5" height="1.5" fill="#94bd7c"/>
<rect x="289.5" y="176.11" width="1.5" height="1.5" fill="#94bd7c"/>
<rect x="289.5" y="183.23000000000002" width="1.5" height="1.5" fill="#94bd7c"/>
<rect x="289.5" y="190.35000000000002" width="1.5" height="1.5" fill="#94bd7c"/>
<rect x="289.5" y="197.47000000000003" width="1.5" height="1.5" fill="#94bd7c"/>
<rect x="289.5" y="204.59" width="1.5" height="1.5" fill="#94bd7c"/>
<rect x="310.9" y="118.9" width="1.4" height="2" fill="#1c1c40"/>
<rect x="310.9" y="126.02000000000001" width="1.4" height="2" fill="#1c1c40"/>
<rect x="310.9" y="133.14000000000001" width="1.4" height="2" fill="#1c1c40"/>
<rect x="310.9" y="140.26" width="1.4" height="2" fill="#1c1c40"/>
<rect x="310.9" y="147.38" width="1.4" height="2" fill="#1c1c40"/>
<rect x="310.9" y="154.5" width="1.4" height="2" fill="#1c1c40"/>
<rect x="310.9" y="161.62" width="1.4" height="2" fill="#1c1c40"/>
<rect x="310.9" y="168.74" width="1.4" height="2" fill="#1c1c40"/>
<rect x="310.9" y="175.86" width="1.4" height="2" fill="#1c1c40"/>
<rect x="310.9" y="182.98000000000002" width="1.4" height="2" fill="#1c1c40"/>
<rect x="310.9" y="190.10000000000002" width="1.4" height="2" fill="#1c1c40"/>
<rect x="310.9" y="197.22000000000003" width="1.4" height="2" fill="#1c1c40"/>
<rect x="310.9" y="204.34" width="1.4" height="2" fill="#1c1c40"/>
<polyline points="305.3,210.6 314.6,215.2 329.9,215 337.3,214.8 339.8,214.8 356.7,214.8 367.5,214.8 376.4,214.8 385.5,214.8 390.4,214.8" fill="none" stroke="#88c866" stroke-width="1.2" stroke-linejoin="round" />
<circle cx="314.6" cy="214.8" r="2.6" fill="#88c866"/>
<circle cx="329.9" cy="214.8" r="2.6" fill="#88c866"/>
<circle cx="337.3" cy="214.8" r="2.6" fill="#88c866"/>
<circle cx="339.8" cy="214.8" r="2.6" fill="#88c866"/>
<circle cx="356.7" cy="214.8" r="2.6" fill="#88c866"/>
<circle cx="367.5" cy="214.8" r="2.6" fill="#88c866"/>
<circle cx="376.4" cy="214.8" r="2.6" fill="#88c866"/>
<circle cx="385.5" cy="214.8" r="2.6" fill="#88c866"/>
<circle cx="390.4" cy="214.8" r="2.6" fill="#88c866"/>
<polyline points="289,211.7 293,208.6 296.8,209.4 300.6,214.8 303,212" fill="none" stroke="#333" stroke-width="0.9" stroke-linejoin="round" />
<circle cx="293" cy="208.8" r="2.4" fill="#fff" stroke="#444" stroke-width="0.9"/>
<circle cx="296.8" cy="209.6" r="2.4" fill="#fff" stroke="#444" stroke-width="0.9"/>
<circle cx="299.5" cy="213.6" r="2.4" fill="#fff" stroke="#444" stroke-width="0.9"/>
<polyline points="289.8,214 294.5,212.5 298.3,213.2 304.2,207 305.2,211.2 309,213" fill="none" stroke="#88c866" stroke-width="1.0" stroke-linejoin="round" />
<circle cx="289.8" cy="214" r="2.7" fill="#f2f8ec" stroke="#9ccf80" stroke-width="1.0"/>
<circle cx="292" cy="212.2" r="2.7" fill="#f2f8ec" stroke="#9ccf80" stroke-width="1.0"/>
<circle cx="294.5" cy="212.5" r="2.7" fill="#f2f8ec" stroke="#9ccf80" stroke-width="1.0"/>
<circle cx="298.3" cy="213.2" r="2.7" fill="#f2f8ec" stroke="#9ccf80" stroke-width="1.0"/>
<circle cx="304.2" cy="207" r="2.7" fill="#f2f8ec" stroke="#9ccf80" stroke-width="1.0"/>
<circle cx="305.2" cy="211.2" r="2.7" fill="#f2f8ec" stroke="#9ccf80" stroke-width="1.0"/>
<polyline points="299,204 301.4,200.2 303.7,198.4 305.2,195.8 307.5,194.8 313,190.9 317.5,188.4 322.6,198.2 326.5,201.8 333.3,203.2 337.3,205 345,205.4 351.2,202.8 362.7,198.2 385,198.2" fill="none" stroke="#1c1c5c" stroke-width="1.3" stroke-linejoin="round" />
<polygon points="299.29999999999995,202.027 303.5,202.027 301.4,198.373" fill="#fff" stroke="#1c1c5c" stroke-width="0.9" stroke-linejoin="round"/>
<polygon points="301.59999999999997,200.227 305.8,200.227 303.7,196.573" fill="#fff" stroke="#1c1c5c" stroke-width="0.9" stroke-linejoin="round"/>
<polygon points="303.09999999999997,197.627 307.3,197.627 305.2,193.973" fill="#fff" stroke="#1c1c5c" stroke-width="0.9" stroke-linejoin="round"/>
<polygon points="305.4,196.627 309.6,196.627 307.5,192.973" fill="#fff" stroke="#1c1c5c" stroke-width="0.9" stroke-linejoin="round"/>
<polygon points="310.7,192.901 315.3,192.901 313,188.899" fill="#1c1c5c" stroke="#1c1c5c" stroke-width="1.0" stroke-linejoin="round"/>
<polygon points="315.2,190.401 319.8,190.401 317.5,186.399" fill="#1c1c5c" stroke="#1c1c5c" stroke-width="1.0" stroke-linejoin="round"/>
<polygon points="320.3,200.201 324.90000000000003,200.201 322.6,196.19899999999998" fill="#1c1c5c" stroke="#1c1c5c" stroke-width="1.0" stroke-linejoin="round"/>
<polygon points="324.2,203.80100000000002 328.8,203.80100000000002 326.5,199.799" fill="#1c1c5c" stroke="#1c1c5c" stroke-width="1.0" stroke-linejoin="round"/>
<polygon points="331.0,205.201 335.6,205.201 333.3,201.19899999999998" fill="#1c1c5c" stroke="#1c1c5c" stroke-width="1.0" stroke-linejoin="round"/>
<polygon points="335.0,207.001 339.6,207.001 337.3,202.999" fill="#1c1c5c" stroke="#1c1c5c" stroke-width="1.0" stroke-linejoin="round"/>
<polygon points="342.7,207.401 347.3,207.401 345,203.399" fill="#1c1c5c" stroke="#1c1c5c" stroke-width="1.0" stroke-linejoin="round"/>
<polygon points="348.9,204.80100000000002 353.5,204.80100000000002 351.2,200.799" fill="#1c1c5c" stroke="#1c1c5c" stroke-width="1.0" stroke-linejoin="round"/>
<polygon points="360.4,200.201 365.0,200.201 362.7,196.19899999999998" fill="#1c1c5c" stroke="#1c1c5c" stroke-width="1.0" stroke-linejoin="round"/>
<polygon points="382.7,200.201 387.3,200.201 385,196.19899999999998" fill="#1c1c5c" stroke="#1c1c5c" stroke-width="1.0" stroke-linejoin="round"/>
<polyline points="300.5,204 301.9,200.5 313.6,168.2 325.9,153.0 340.8,158.0 349.6,128.5 354.2,143.6 357.3,142.2 385.8,147.2 400.8,135.4" fill="none" stroke="#ad1a2d" stroke-width="1.3" stroke-linejoin="round" />
<rect x="311.6" y="165.60000000000002" width="4.4" height="4.4" fill="#fff" stroke="#ad1a2d" stroke-width="1.1"/>
<line x1="313.8" y1="162.6" x2="313.8" y2="172" stroke="#ad1a2d" stroke-width="0.9" />
<line x1="312.05" y1="162.6" x2="315.55" y2="162.6" stroke="#ad1a2d" stroke-width="0.9" />
<line x1="312.05" y1="172" x2="315.55" y2="172" stroke="#ad1a2d" stroke-width="0.9" />
<polygon points="312.8,175.066 316.40000000000003,175.066 314.6,171.934" fill="#ad1a2d" stroke="#ad1a2d" stroke-width="1.0" stroke-linejoin="round"/>
<rect x="323.09999999999997" y="150.2" width="5.6" height="5.6" fill="#ad1a2d"/>
<rect x="338.0" y="155.2" width="5.6" height="5.6" fill="#ad1a2d"/>
<rect x="346.8" y="125.7" width="5.6" height="5.6" fill="#ad1a2d"/>
<rect x="351.4" y="140.79999999999998" width="5.6" height="5.6" fill="#ad1a2d"/>
<rect x="354.5" y="139.39999999999998" width="5.6" height="5.6" fill="#ad1a2d"/>
<rect x="383.0" y="144.39999999999998" width="5.6" height="5.6" fill="#ad1a2d"/>
<rect x="398.0" y="132.6" width="5.6" height="5.6" fill="#ad1a2d"/>
<line x1="325.9" y1="143" x2="325.9" y2="162" stroke="#ad1a2d" stroke-width="0.9" />
<line x1="324.15" y1="143" x2="327.65" y2="143" stroke="#ad1a2d" stroke-width="0.9" />
<line x1="324.15" y1="162" x2="327.65" y2="162" stroke="#ad1a2d" stroke-width="0.9" />
<line x1="349.6" y1="124.8" x2="349.6" y2="129" stroke="#ad1a2d" stroke-width="0.9" />
<line x1="347.85" y1="124.8" x2="351.35" y2="124.8" stroke="#ad1a2d" stroke-width="0.9" />
<line x1="347.85" y1="129" x2="351.35" y2="129" stroke="#ad1a2d" stroke-width="0.9" />
<line x1="357.3" y1="130.8" x2="357.3" y2="153.7" stroke="#ad1a2d" stroke-width="0.9" />
<line x1="355.55" y1="130.8" x2="359.05" y2="130.8" stroke="#ad1a2d" stroke-width="0.9" />
<line x1="355.55" y1="153.7" x2="359.05" y2="153.7" stroke="#ad1a2d" stroke-width="0.9" />
<line x1="385.8" y1="134.6" x2="385.8" y2="160.2" stroke="#ad1a2d" stroke-width="0.9" />
<line x1="384.05" y1="134.6" x2="387.55" y2="134.6" stroke="#ad1a2d" stroke-width="0.9" />
<line x1="384.05" y1="160.2" x2="387.55" y2="160.2" stroke="#ad1a2d" stroke-width="0.9" />
<line x1="400.8" y1="128.3" x2="400.8" y2="142.6" stroke="#ad1a2d" stroke-width="0.9" />
<line x1="399.05" y1="128.3" x2="402.55" y2="128.3" stroke="#ad1a2d" stroke-width="0.9" />
<line x1="399.05" y1="142.6" x2="402.55" y2="142.6" stroke="#ad1a2d" stroke-width="0.9" />
<text x="428.6" y="119.9" font-size="11" fill="#111" stroke="#111" stroke-width="0.22" text-anchor="start" font-weight="bold" >E</text>
<text x="0" y="0" font-size="9.1" fill="#111" stroke="#111" stroke-width="0.22" text-anchor="middle" transform="translate(438.6,170.6) rotate(-90)">Stiffness (kPa)</text>
<line x1="457.6" y1="122.6" x2="457.6" y2="219.7" stroke="#1a1a1a" stroke-width="1" />
<line x1="455.1" y1="122.6" x2="457.6" y2="122.6" stroke="#1a1a1a" stroke-width="1" />
<text x="454.2" y="125.39999999999999" font-size="9.1" fill="#111" stroke="#111" stroke-width="0.22" text-anchor="end" font-weight="normal" >1.5</text>
<line x1="455.1" y1="154.6" x2="457.6" y2="154.6" stroke="#1a1a1a" stroke-width="1" />
<text x="454.2" y="157.4" font-size="9.1" fill="#111" stroke="#111" stroke-width="0.22" text-anchor="end" font-weight="normal" >1.0</text>
<line x1="455.1" y1="186.6" x2="457.6" y2="186.6" stroke="#1a1a1a" stroke-width="1" />
<text x="454.2" y="189.4" font-size="9.1" fill="#111" stroke="#111" stroke-width="0.22" text-anchor="end" font-weight="normal" >0.5</text>
<line x1="455.1" y1="218.6" x2="457.6" y2="218.6" stroke="#1a1a1a" stroke-width="1" />
<text x="454.2" y="221.4" font-size="9.1" fill="#111" stroke="#111" stroke-width="0.22" text-anchor="end" font-weight="normal" >0.0</text>
<line x1="457.1" y1="219.7" x2="520" y2="219.7" stroke="#1a1a1a" stroke-width="1" />
<line x1="457.6" y1="219.7" x2="457.6" y2="222.5" stroke="#1a1a1a" stroke-width="1" />
<line x1="489.5" y1="219.7" x2="489.5" y2="222.5" stroke="#1a1a1a" stroke-width="1" />
<line x1="519.3" y1="219.7" x2="519.3" y2="222.5" stroke="#1a1a1a" stroke-width="1" />
<rect x="461.2" y="141.4" width="11.9" height="77.4" fill="#c1202e"/>
<rect x="475.7" y="204.7" width="11.8" height="14.1" fill="#88c866"/>
<rect x="490.9" y="187.4" width="11.5" height="31.4" fill="#c1202e"/>
<rect x="505.7" y="211.2" width="11.5" height="7.6" fill="#88c866"/>
<line x1="467.1" y1="122.6" x2="467.1" y2="160.5" stroke="#222" stroke-width="1.0" />
<line x1="465.3" y1="122.6" x2="468.90000000000003" y2="122.6" stroke="#222" stroke-width="1.0" />
<line x1="465.3" y1="160.5" x2="468.90000000000003" y2="160.5" stroke="#222" stroke-width="1.0" />
<line x1="482.5" y1="202" x2="482.5" y2="207.1" stroke="#222" stroke-width="1.0" />
<line x1="480.7" y1="202" x2="484.3" y2="202" stroke="#222" stroke-width="1.0" />
<line x1="480.7" y1="207.1" x2="484.3" y2="207.1" stroke="#222" stroke-width="1.0" />
<line x1="496.6" y1="178.3" x2="496.6" y2="196.5" stroke="#222" stroke-width="1.0" />
<line x1="494.8" y1="178.3" x2="498.40000000000003" y2="178.3" stroke="#222" stroke-width="1.0" />
<line x1="494.8" y1="196.5" x2="498.40000000000003" y2="196.5" stroke="#222" stroke-width="1.0" />
<line x1="511.5" y1="209.6" x2="511.5" y2="212.8" stroke="#222" stroke-width="1.0" />
<line x1="509.7" y1="209.6" x2="513.3" y2="209.6" stroke="#222" stroke-width="1.0" />
<line x1="509.7" y1="212.8" x2="513.3" y2="212.8" stroke="#222" stroke-width="1.0" />
<text x="474.2" y="231" font-size="9.1" fill="#111" stroke="#111" stroke-width="0.22" text-anchor="middle" font-weight="normal" >HL60</text>
<text x="503.8" y="231" font-size="9.1" fill="#111" stroke="#111" stroke-width="0.22" text-anchor="middle" font-weight="normal" >Jurkat</text>
<text x="490.7" y="244.3" font-size="9.1" fill="#111" stroke="#111" stroke-width="0.22" text-anchor="middle" font-weight="normal" >Cell Type</text>
</svg>
</body></html>
